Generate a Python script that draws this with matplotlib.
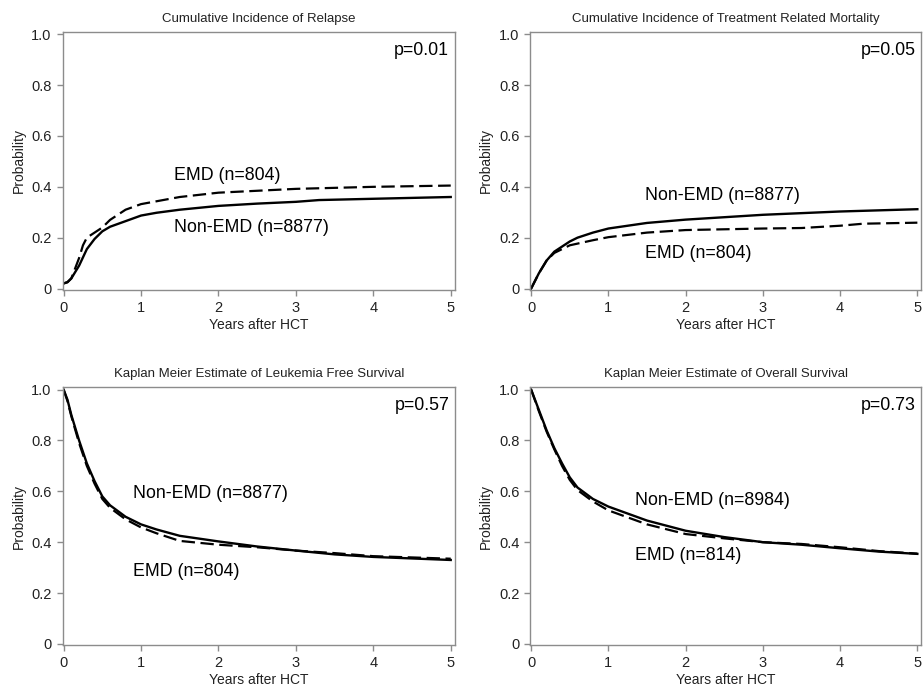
import matplotlib
matplotlib.use("Agg")
import matplotlib.pyplot as plt

plt.rcParams['font.family'] = ['Liberation Sans', 'DejaVu Sans']

# 数据
# 复发累积发生率
rel_x_non = [0, 0.05, 0.1, 0.2, 0.3, 0.4, 0.5, 0.6, 0.8, 1.0, 1.2, 1.5, 2.0, 2.5, 3.0, 3.3, 4.0, 5.0]
rel_y_non = [0.02, 0.025, 0.04, 0.09, 0.155, 0.195, 0.225, 0.243, 0.265, 0.287, 0.298, 0.31, 0.325, 0.334, 0.341, 0.348, 0.353, 0.36]
rel_x_emd = [0, 0.05, 0.1, 0.2, 0.25, 0.3, 0.5, 0.6, 0.8, 1.0, 1.5, 2.0, 3.0, 4.0, 5.0]
rel_y_emd = [0.02, 0.025, 0.04, 0.12, 0.17, 0.2, 0.24, 0.27, 0.31, 0.332, 0.36, 0.377, 0.392, 0.4, 0.405]

# 治疗相关死亡率
trm_x_non = [0, 0.1, 0.2, 0.3, 0.5, 0.6, 0.8, 1.0, 1.5, 2.0, 3.0, 4.0, 5.0]
trm_y_non = [0, 0.06, 0.11, 0.145, 0.185, 0.2, 0.22, 0.236, 0.258, 0.271, 0.29, 0.303, 0.312]
trm_x_emd = [0, 0.1, 0.2, 0.3, 0.5, 0.8, 1.0, 1.5, 2.0, 3.0, 3.5, 4.0, 4.3, 5.0]
trm_y_emd = [0, 0.06, 0.11, 0.14, 0.17, 0.19, 0.202, 0.22, 0.23, 0.236, 0.238, 0.247, 0.255, 0.259]

# 无白血病生存
lfs_x = [0, 0.05, 0.1, 0.2, 0.3, 0.4, 0.5, 0.6, 0.8, 1.0, 1.2, 1.5, 2.0, 2.5, 3.0, 3.5, 4.0, 4.5, 5.0]
lfs_y_non = [1.0, 0.96, 0.9, 0.8, 0.71, 0.64, 0.58, 0.545, 0.5, 0.47, 0.45, 0.425, 0.403, 0.383, 0.367, 0.352, 0.342, 0.336, 0.33]
lfs_y_emd = [1.0, 0.955, 0.895, 0.79, 0.7, 0.63, 0.57, 0.535, 0.49, 0.458, 0.435, 0.405, 0.39, 0.38, 0.367, 0.357, 0.345, 0.34, 0.335]

# 总生存
os_x = [0, 0.1, 0.2, 0.3, 0.4, 0.5, 0.6, 0.8, 1.0, 1.5, 2.0, 2.5, 3.0, 3.5, 4.0, 4.5, 5.0]
os_y_non = [1.0, 0.92, 0.84, 0.77, 0.71, 0.655, 0.615, 0.57, 0.54, 0.485, 0.445, 0.42, 0.40, 0.39, 0.376, 0.363, 0.354]
os_y_emd = [1.0, 0.915, 0.835, 0.765, 0.7, 0.645, 0.605, 0.56, 0.525, 0.47, 0.432, 0.415, 0.40, 0.393, 0.38, 0.365, 0.355]

titles = ["Cumulative Incidence of Relapse",
          "Cumulative Incidence of Treatment Related Mortality",
          "Kaplan Meier Estimate of Leukemia Free Survival",
          "Kaplan Meier Estimate of Overall Survival"]
pvals = ["p=0.01", "p=0.05", "p=0.57", "p=0.73"]
non_labels = ["Non-EMD (n=8877)", "Non-EMD (n=8877)", "Non-EMD (n=8877)", "Non-EMD (n=8984)"]
emd_labels = ["EMD (n=804)", "EMD (n=804)", "EMD (n=804)", "EMD (n=814)"]

fig = plt.figure(figsize=(9.24, 6.9), dpi=100)
rects = [[0.068, 0.580, 0.424, 0.374],
         [0.574, 0.580, 0.423, 0.374],
         [0.068, 0.065, 0.424, 0.374],
         [0.574, 0.065, 0.423, 0.374]]

series = [(rel_x_non, rel_y_non, rel_x_emd, rel_y_emd),
          (trm_x_non, trm_y_non, trm_x_emd, trm_y_emd),
          (lfs_x, lfs_y_non, lfs_x, lfs_y_emd),
          (os_x, os_y_non, os_x, os_y_emd)]

# 文字位置 (x, y_non, y_emd)
label_pos = [(1.42, 0.242, 0.444),
             (1.47, 0.366, 0.137),
             (0.89, 0.59, 0.285),
             (1.34, 0.565, 0.347)]

for i in range(4):
    ax = fig.add_axes(rects[i])
    xn, yn, xe, ye = series[i]
    ax.plot(xn, yn, color='black', lw=1.7, solid_joinstyle='round')
    ax.plot(xe, ye, color='black', lw=1.6, ls=(0, (6, 2.5)))
    ax.set_xlim(-0.01, 5.05)
    ax.set_ylim(-0.005, 1.01)
    ax.set_xticks([0, 1, 2, 3, 4, 5])
    ax.set_xticklabels(['0', '1', '2', '3', '4', '5'])
    ax.set_yticks([0, 0.2, 0.4, 0.6, 0.8, 1.0])
    ax.set_yticklabels(['0', '0.2', '0.4', '0.6', '0.8', '1.0'])
    for s in ax.spines.values():
        s.set_color('#8c8c8c')
        s.set_linewidth(1.0)
    ax.tick_params(direction='out', length=4, width=1.0, color='#8c8c8c',
                   labelsize=10.5, labelcolor='#222222', pad=4)
    ax.set_xlabel("Years after HCT", fontsize=10, color='#222222', labelpad=2)
    ax.set_ylabel("Probability", fontsize=10, color='#222222', labelpad=4)
    ax.set_title(titles[i], fontsize=9.5, color='#222222', pad=7)
    lx, ly_non, ly_emd = label_pos[i]
    ax.text(lx, ly_non, non_labels[i], fontsize=12.8, va='center', ha='left')
    ax.text(lx, ly_emd, emd_labels[i], fontsize=12.8, va='center', ha='left')
    ax.text(4.98, 0.937, pvals[i], fontsize=12.8, va='center', ha='right')

fig.savefig("out.png", dpi=100)
